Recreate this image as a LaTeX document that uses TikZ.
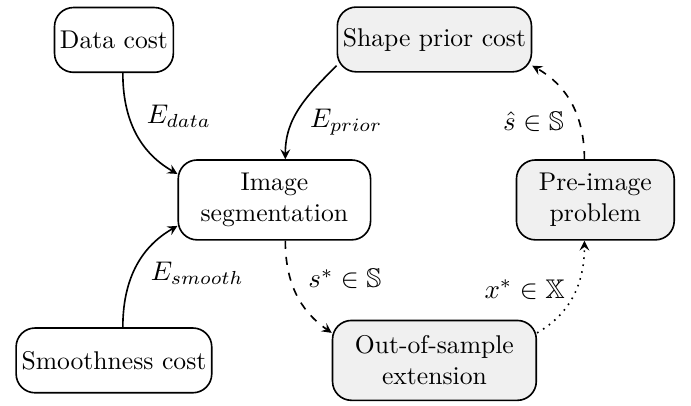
\documentclass[tikz,border=0pt]{standalone}
\usepackage{amsmath}
\usepackage{amssymb}
\usepackage{tikz}
\tikzset{
	box/.style={draw,semithick,rounded corners=7pt,align=center,minimum height=24pt,inner xsep=2pt,font=\fontsize{9.5}{11.5}\selectfont},
	gbox/.style={box,fill=gray!12},
	tall/.style={inner xsep=8.3pt,minimum height=29.6pt},
	flow/.style={->,semithick}
}

\begin{document}
\begin{tikzpicture}[>=stealth]
	\useasboundingbox (0, 0) rectangle (9.0, 5.286);
	\node [box] (data) at (1.484, 4.766) {Data cost};
	\node [gbox] (prior) at (5.658, 4.772) {Shape prior cost};
	\node [box,tall] (seg) at (3.574, 2.682) {Image\\segmentation};
	\node [gbox,tall] (preimg) at (7.754, 2.682) {Pre-image\\problem};
	\node [box] (smooth) at (1.484, 0.592) {Smoothness cost};
	\node [gbox,tall] (oos) at (5.658, 0.592) {Out-of-sample\\extension};

	% energy terms
	\draw [flow] (data.-75) to [out=-90,in=150] node [pos=0.35,right=3pt] {$E_{data}$} (seg.165);
	\draw [flow] (prior.195) to [out=-135,in=90] node [pos=0.66,right=3pt] {$E_{prior}$} (seg.75);
	\draw [flow] (smooth.75) to [out=90,in=210] node [pos=0.45,right=3pt] {$E_{smooth}$} (seg.195);

	% shape loop
	\draw [flow,dashed] (seg.-75) to [out=-90,in=145] node [pos=0.35,right=3pt] {$s^* \in \mathbb{S}$} (oos.165);
	\draw [flow,dotted] (oos.15) to [out=30,in=-90] node [pos=0.55,left=0.5pt] {$x^* \in \mathbb{X}$} (preimg.-105);
	\draw [flow,dashed] (preimg.105) to [out=90,in=-30] node [pos=0.33,left=2pt] {$\hat{s} \in \mathbb{S}$} (prior.-15);
\end{tikzpicture}
\end{document}
